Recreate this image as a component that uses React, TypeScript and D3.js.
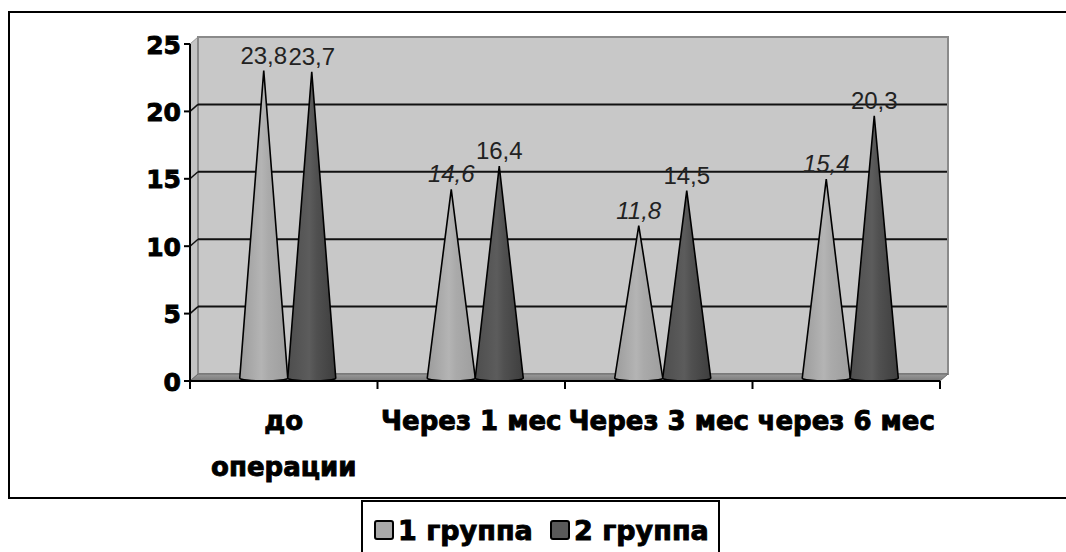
import React, { useMemo } from "react";
import * as d3 from "d3";

const categories = ["до операции", "Через 1 мес", "Через 3 мес", "через 6 мес"];
const groups = ["1 группа", "2 группа"];
const group1 = [23.8, 14.6, 11.8, 15.4];
const group2 = [23.7, 16.4, 14.5, 20.3];
const yTicks = [0, 5, 10, 15, 20, 25];
const valueLabels1 = ["23,8", "14,6", "11,8", "15,4"];
const valueLabels2 = ["23,7", "16,4", "14,5", "20,3"];

const W = 1066;
const H = 552;
const DX = 8;
const DY = -7;

const catFont = "bold 26px 'DejaVu Sans'";

function wrapLabel(text: string, maxW: number): string[] {
  const c = document.createElement("canvas").getContext("2d");
  if (!c) return [text];
  c.font = catFont;
  if (c.measureText(text).width <= maxW) return [text];
  const words = text.split(" ");
  const lines: string[] = [];
  let cur = "";
  words.forEach((w) => {
    const t = cur ? cur + " " + w : w;
    if (cur && c.measureText(t).width > maxW) {
      lines.push(cur);
      cur = w;
    } else cur = t;
  });
  if (cur) lines.push(cur);
  return lines;
}

export default function App() {
  const x0 = d3.scaleBand<string>().domain(categories).range([190, 940]).padding(0);
  const bw = x0.bandwidth();
  const x1 = d3.scaleBand<string>().domain(groups).range([bw / 2 - 48 + DX / 2, bw / 2 + 48 + DX / 2]);
  const yFront = d3.scaleLinear().domain([0, 25]).range([381, 44]);
  const yBack = d3.scaleLinear().domain([0, 25]).range([381 + DY, 44 + DY]);
  const yCone = d3.scaleLinear().domain([0, 25]).range([378, 55]);

  const left = x0.range()[0];
  const right = x0.range()[1];

  const labelLines = useMemo(() => categories.map((c) => wrapLabel(c, bw)), [bw]);

  const series = [
    { name: groups[0], values: group1, labels: valueLabels1, grad: "g1", legend: "#a8a8a8" },
    { name: groups[1], values: group2, labels: valueLabels2, grad: "g2", legend: "#5a5a5a" },
  ];

  const conePath = (cx: number, v: number) => {
    const hw = x1.bandwidth() / 2;
    const base = yCone(0);
    const tip = yCone(v);
    return `M${cx - hw},${base} L${cx},${tip} L${cx + hw},${base} A${hw},3 0 0 1 ${cx - hw},${base} Z`;
  };

  const heavy = { fontFamily: "'DejaVu Sans', sans-serif", fontWeight: "bold" as const, fill: "#000", stroke: "#000", strokeWidth: 0.9 };

  return (
    <svg width={W} height={H} style={{ position: "absolute", left: 0, top: 0, background: "#fff" }}>
      <defs>
        <linearGradient id="g1" x1="0" x2="1" y1="0" y2="0">
          <stop offset="0" stopColor="#9c9c9c" />
          <stop offset="0.45" stopColor="#b4b4b4" />
          <stop offset="0.6" stopColor="#aaaaaa" />
          <stop offset="1" stopColor="#9e9e9e" />
        </linearGradient>
        <linearGradient id="g2" x1="0" x2="1" y1="0" y2="0">
          <stop offset="0" stopColor="#4e4e4e" />
          <stop offset="0.45" stopColor="#5c5c5c" />
          <stop offset="0.6" stopColor="#505050" />
          <stop offset="1" stopColor="#3e3e3e" />
        </linearGradient>
        <linearGradient id="floor" x1="0" x2="0" y1="0" y2="1">
          <stop offset="0" stopColor="#9a9a9a" />
          <stop offset="1" stopColor="#7a7a7a" />
        </linearGradient>
      </defs>

      {/* chart area border */}
      <rect x={9} y={12} width={W + 20} height={486} fill="#fff" stroke="#000" strokeWidth={2} />

      {/* side wall */}
      <polygon
        points={`${left},${yFront(0)} ${left + DX},${yBack(0)} ${left + DX},${yBack(25)} ${left},${yFront(25)}`}
        fill="#c4c4c4"
        stroke="#9a9a9a"
        strokeWidth={1}
      />
      {/* back wall */}
      <rect
        x={left + DX}
        y={yBack(25)}
        width={right - left}
        height={yBack(0) - yBack(25)}
        fill="#c8c8c8"
        stroke="#8a8a8a"
        strokeWidth={2}
      />
      {/* floor */}
      <polygon
        points={`${left},${yFront(0)} ${left + DX},${yBack(0)} ${right + DX},${yBack(0)} ${right},${yFront(0)}`}
        fill="url(#floor)"
        stroke="#6a6a6a"
        strokeWidth={1}
      />

      {/* gridlines */}
      {yTicks.filter((t) => t > 0 && t < 25).map((t) => (
        <g key={"gl" + t}>
          <line x1={left} y1={yFront(t)} x2={left + DX} y2={yBack(t)} stroke="#111" strokeWidth={1.5} />
          <line x1={left + DX} y1={yBack(t)} x2={right + DX - 1} y2={yBack(t)} stroke="#111" strokeWidth={2} />
        </g>
      ))}

      {/* cones */}
      {series.map((s) => (
        <g key={s.name}>
          {s.values.map((v, i) => {
            const cx = (x0(categories[i]) ?? 0) + (x1(s.name) ?? 0) + x1.bandwidth() / 2;
            return (
              <path
                key={i}
                d={conePath(cx, v)}
                fill={`url(#${s.grad})`}
                stroke="#000"
                strokeWidth={1.6}
                strokeLinejoin="miter"
              />
            );
          })}
        </g>
      ))}

      {/* value labels */}
      {series.map((s, si) => (
        <g key={"lab" + s.name}>
          {s.values.map((v, i) => {
            const cx = (x0(categories[i]) ?? 0) + (x1(s.name) ?? 0) + x1.bandwidth() / 2;
            return (
              <text
                key={i}
                x={cx}
                y={yCone(v) - 7}
                textAnchor="middle"
                fontFamily="'Liberation Sans', Arial, sans-serif"
                fontSize={24}
                fontStyle={si === 0 && i > 0 ? "italic" : "normal"}
                fill="#222"
              >
                {s.labels[i]}
              </text>
            );
          })}
        </g>
      ))}

      {/* y axis */}
      <line x1={left} y1={yFront(0)} x2={left} y2={yFront(25)} stroke="#000" strokeWidth={2} />
      {yTicks.map((t) => (
        <g key={"yt" + t}>
          <line x1={left - 6} y1={yFront(t)} x2={left} y2={yFront(t)} stroke="#000" strokeWidth={2} />
          <text x={left - 9} y={yFront(t) + 1} textAnchor="end" dominantBaseline="central" fontSize={25} {...heavy}>
            {t}
          </text>
        </g>
      ))}

      {/* x axis */}
      <line x1={left} y1={yFront(0)} x2={right} y2={yFront(0)} stroke="#000" strokeWidth={2} />
      {[...categories.map((c) => x0(c) ?? 0), right].map((xv, i) => (
        <line key={"xt" + i} x1={xv} y1={yFront(0)} x2={xv} y2={yFront(0) + 8} stroke="#000" strokeWidth={2} />
      ))}
      {categories.map((c, i) => (
        <text key={"cl" + c} x={(x0(c) ?? 0) + bw / 2} y={430} textAnchor="middle" fontSize={26} {...heavy}>
          {labelLines[i].map((ln, li) => (
            <tspan key={li} x={(x0(c) ?? 0) + bw / 2} dy={li === 0 ? 0 : 46}>
              {ln}
            </tspan>
          ))}
        </text>
      ))}

      {/* legend */}
      <rect x={362} y={501} width={357} height={70} fill="#fff" stroke="#000" strokeWidth={2} />
      {series.map((s, i) => (
        <g key={"lg" + s.name} transform={`translate(${375 + i * 176},0)`}>
          <rect x={0} y={521} width={18} height={18} fill={s.legend} stroke="#000" strokeWidth={2} rx={2} />
          <text x={23} y={540} fontSize={27} {...heavy}>
            {s.name}
          </text>
        </g>
      ))}
    </svg>
  );
}
